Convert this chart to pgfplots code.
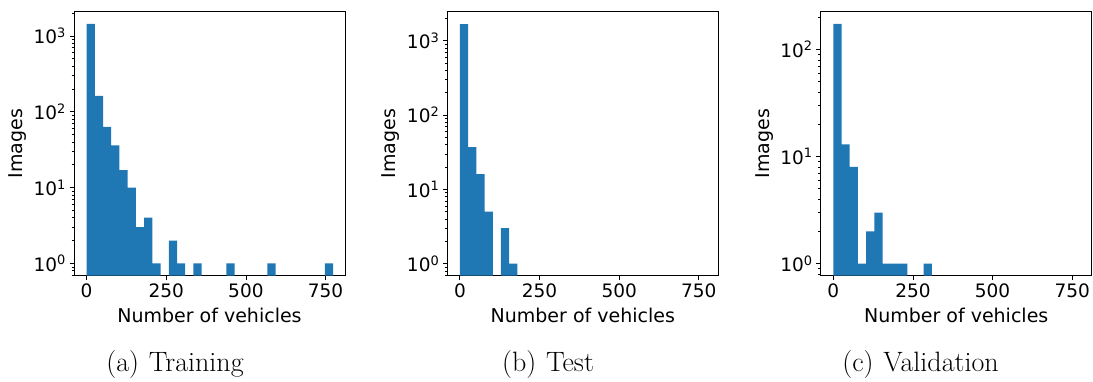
\documentclass[border=0pt]{standalone}
\usepackage{fontspec}
\usepackage{pgfplots}
\pgfplotsset{compat=1.18}
\newfontfamily\dejavu{DejaVu Sans}
\definecolor{mplblue}{HTML}{1F77B4}
\pgfplotsset{
  hist/.style={
    scale only axis, width=271pt, height=264pt,
    anchor=south west,
    xmin=-39.5, xmax=811,
    log origin y=infty,
    xtick={0,250,500,750},
    ytick={1,10,100,1000},
    yticklabels={10\textsuperscript{0},10\textsuperscript{1},10\textsuperscript{2},10\textsuperscript{3}},
    minor ytick={0.7,0.8,0.9,2,3,4,5,6,7,8,9,20,30,40,50,60,70,80,90,200,300,400,500,600,700,800,900,2000},
    /pgf/number format/assume math mode=true,
    tick label style={font=\dejavu\fontsize{18.5}{20}\selectfont},
    label style={font=\dejavu\fontsize{19}{22}\selectfont},
    xlabel={Number of vehicles}, ylabel={Images},
    xlabel style={at={(axis description cs:0.5,0)}, anchor=base, yshift=-47pt},
    ylabel style={at={(axis description cs:0,0.5)}, anchor=center, yshift=56.5pt},
    tick align=outside, xtick pos=bottom, ytick pos=left,
    major tick length=4.5pt, minor tick length=2.5pt,
    axis line style={line width=0.8pt},
    every tick/.style={black, line width=0.8pt},
    every minor tick/.style={black, line width=0.6pt},
    ybar, bar width=25.8, bar shift=0pt,
  }
}
\begin{document}
\begin{tikzpicture}
\useasboundingbox (0pt,0pt) rectangle (1093pt,381pt);
% (a) Training
\begin{semilogyaxis}[hist, at={(74pt,105.3pt)}, ymin=0.687, ymax=2090]
\addplot[fill=mplblue, draw=none] coordinates {
(12.9,1442) (38.7,162) (64.5,63) (90.3,36) (116.1,17) (141.9,10)
(167.7,3) (193.5,4) (219.3,1) (270.9,2) (296.7,1) (348.3,1)
(451.5,1) (580.5,1) (761.1,1)};
\end{semilogyaxis}
% (b) Test
\begin{semilogyaxis}[hist, at={(447.3pt,105.3pt)}, ymin=0.689, ymax=2460]
\addplot[fill=mplblue, draw=none] coordinates {
(12.9,1675) (38.7,37) (64.5,16) (90.3,5) (141.9,3) (167.7,1)};
\end{semilogyaxis}
% (c) Validation
\begin{semilogyaxis}[hist, at={(820.7pt,105.3pt)}, ymin=0.772, ymax=225]
\addplot[fill=mplblue, draw=none] coordinates {
(12.9,173) (38.7,13) (64.5,8) (90.3,1) (116.1,2) (141.9,3)
(167.7,1) (193.5,1) (219.3,1) (296.7,1)};
\end{semilogyaxis}
\node[anchor=base, font=\fontsize{28}{32}\selectfont] at (175pt,9.3pt) {(a)\hspace{0.35em}Training};
\node[anchor=base, font=\fontsize{28}{32}\selectfont] at (548pt,9.3pt) {(b)\hspace{0.35em}Test};
\node[anchor=base, font=\fontsize{28}{32}\selectfont] at (920.5pt,9.3pt) {(c)\hspace{0.35em}Validation};
\end{tikzpicture}
\end{document}
